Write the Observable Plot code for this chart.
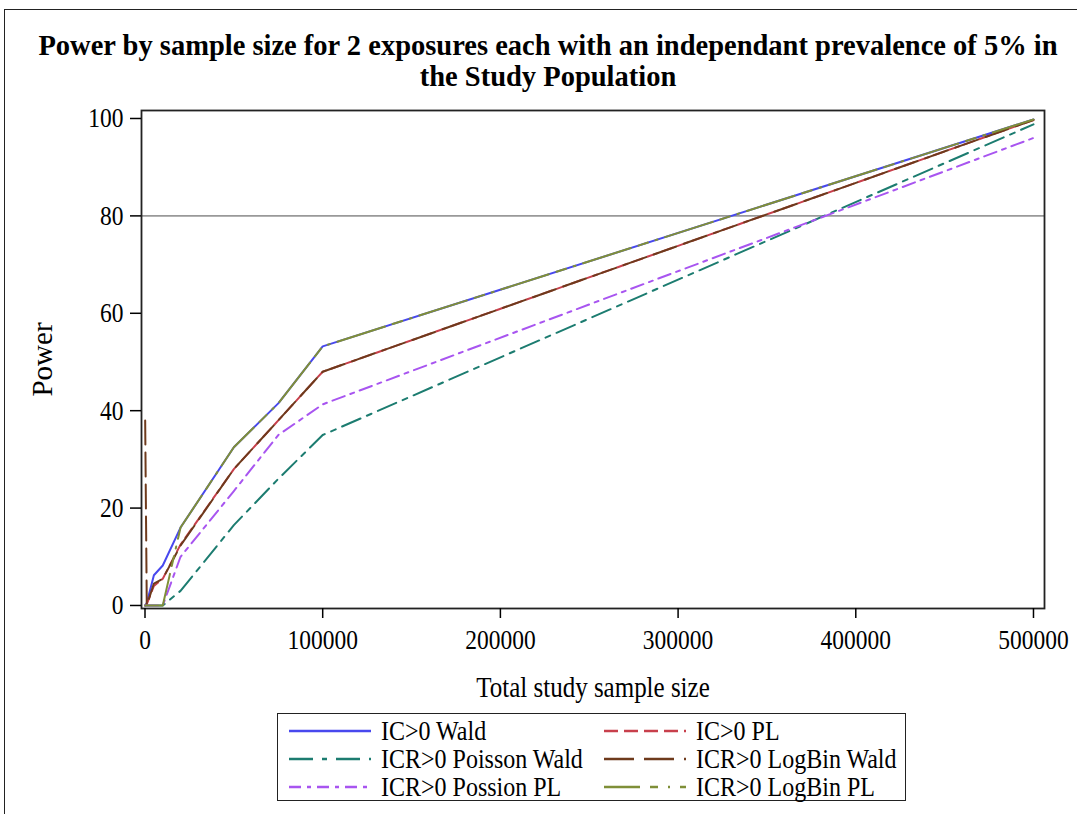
<!DOCTYPE html>
<html>
<head>
<meta charset="utf-8">
<script src="https://cdn.jsdelivr.net/npm/d3@7"></script>
<script src="https://cdn.jsdelivr.net/npm/@observablehq/plot@0.6"></script>
<style>
  body { margin: 0; background: #fff; }
  #wrap { position: relative; width: 1077px; height: 814px; overflow: hidden; font-family: "Liberation Serif", "Times New Roman", serif; color: #000; }
  #outer { position: absolute; left: 4px; top: 9px; width: 2000px; height: 2000px; border-left: 1.5px solid #222; border-top: 1.5px solid #222; }
  #title { position: absolute; top: 30px; left: 0; width: 1096px; text-align: center; font-weight: bold; font-size: 28.5px; line-height: 31px; }
  #chart { position: absolute; top: 100px; left: 0; }
  #legend { position: absolute; left: 277px; top: 713px; width: 627px; height: 86px; border: 1.5px solid #222; background: #fff; }
  .item { position: absolute; height: 26px; display: flex; align-items: center; font-size: 24px; white-space: nowrap; }
  .item svg { margin-right: 10px; }
  .item span { display: inline-block; transform: scaleY(1.18); }
</style>
</head>
<body>
<div id="wrap">
  <div id="outer"></div>
  <div id="title">Power by sample size for 2 exposures each with an independant prevalence of 5% in<br>the Study Population</div>
  <div id="chart"></div>
  <div id="legend"></div>
</div>
<script>
// ---- Data ----
const sampleSizes = [100, 1000, 5000, 10000, 20000, 50000, 75000, 100000, 500000];
const seriesNames = ["IC>0 Wald", "IC>0 PL", "ICR>0 Poisson Wald", "ICR>0 LogBin Wald", "ICR>0 Possion PL", "ICR>0 LogBin PL"];
const icWald        = [0, 0.5, 6.2, 8.2, 16, 32.5, 41.5, 53.2, 99.8];
const icPL          = [0, 0.3, 4.0, 5.5, 12.5, 28, 38, 48, 99.7];
const icrPoisWald   = [0, 0, 0, 0, 3, 16.5, 26, 35, 98.8];
const icrLogBinWald = [38, 0, 4.5, 5.5, 12.3, 28, 38, 48, 99.7];
const icrPoisPL     = [0, 0, 0, 0, 10, 23.5, 35, 41.3, 96];
const icrLogBinPL   = [0, 0, 0, 0, 16, 32.5, 41.5, 53.2, 99.8];
const xTicks = [0, 100000, 200000, 300000, 400000, 500000];
const yTicks = [0, 20, 40, 60, 80, 100];
const refPower = [80];

// ---- Styles ----
const colors = ["#4848ee", "#c8404c", "#1c7c70", "#6e3a1c", "#a855f0", "#7f8f38"];
const dashes = ["none", "11,5", "20,7,5,7", "24,8", "13,6,4,6", "50,8,10,8,2,8"];
const values = [icWald, icPL, icrPoisWald, icrLogBinWald, icrPoisPL, icrLogBinPL];

const rows = [];
seriesNames.forEach((s, i) => sampleSizes.forEach((n, j) => rows.push({series: s, n, power: values[i][j]})));

const chart = Plot.plot({
  width: 1077,
  height: 605,
  marginLeft: 141,
  marginRight: 33,
  marginTop: 10,
  marginBottom: 97,
  style: {fontFamily: "Liberation Serif, Times New Roman, serif", fontSize: "23.5px", color: "#000", background: "transparent"},
  x: {domain: [-1970, 506200]},
  y: {domain: [-0.62, 101.64]},
  marks: [
    Plot.ruleY(refPower, {stroke: "#999", strokeWidth: 1.8}),
    ...seriesNames.map((s, i) => Plot.line(rows.filter(d => d.series === s), {
      x: "n", y: "power", stroke: colors[i], strokeWidth: 2,
      strokeDasharray: dashes[i] === "none" ? undefined : dashes[i]
    })),
    Plot.frame({stroke: "#222", strokeWidth: 1.8}),
    Plot.axisX({ticks: xTicks, tickFormat: "d", tickSize: 10, tickPadding: 11, label: "Total study sample size", labelAnchor: "center", labelArrow: "none", labelOffset: 88, strokeWidth: 1.5}),
    Plot.axisY({ticks: yTicks, tickSize: 11, tickPadding: 7, label: "Power", labelAnchor: "center", labelArrow: "none", labelOffset: 110, strokeWidth: 1.5})
  ]
});
const xl = chart.querySelector('g[aria-label="x-axis label"]');
if (xl) xl.setAttribute("font-size", 25);
const yl = chart.querySelector('g[aria-label="y-axis label"]');
if (yl) yl.setAttribute("font-size", 29);
// taller glyphs, as in the reference rendering
["x-axis tick label", "y-axis tick label", "x-axis label"].forEach(lbl => {
  const g = chart.querySelector(`g[aria-label="${lbl}"]`);
  if (!g) return;
  g.querySelectorAll("text").forEach(t => {
    const tr = t.getAttribute("transform") || "";
    t.setAttribute("transform", tr + " scale(1,1.18)");
  });
});
document.getElementById("chart").appendChild(chart);

// ---- Legend ----
const legend = document.getElementById("legend");
const pos = [[11, 4], [326, 4], [11, 32], [326, 32], [11, 60], [326, 60]];
seriesNames.forEach((s, i) => {
  const div = document.createElement("div");
  div.className = "item";
  div.style.left = pos[i][0] + "px";
  div.style.top = pos[i][1] + "px";
  const ns = "http://www.w3.org/2000/svg";
  const svg = document.createElementNS(ns, "svg");
  svg.setAttribute("width", 82); svg.setAttribute("height", 10);
  const ln = document.createElementNS(ns, "line");
  ln.setAttribute("x1", 0); ln.setAttribute("x2", 82); ln.setAttribute("y1", 5); ln.setAttribute("y2", 5);
  ln.setAttribute("stroke", colors[i]); ln.setAttribute("stroke-width", 2.5);
  const legDash = ["none", "14,6", "24,9,5,9", "30,10", "12,6,4,6", "36,10,8,10,2,10"][i];
  if (legDash !== "none") ln.setAttribute("stroke-dasharray", legDash);
  svg.appendChild(ln);
  div.appendChild(svg);
  const span = document.createElement("span");
  span.textContent = s;
  div.appendChild(span);
  legend.appendChild(div);
});
</script>
</body>
</html>
